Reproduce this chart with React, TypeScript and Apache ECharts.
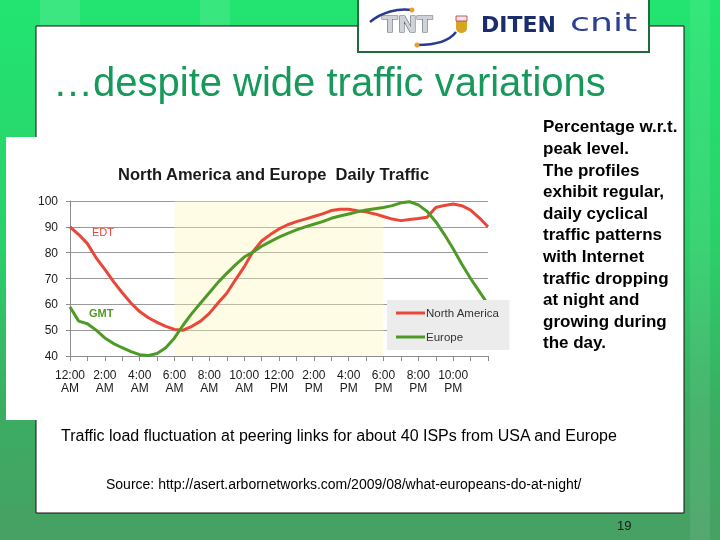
import React, { useEffect, useRef } from "react";
import * as echarts from "echarts";

// Hours of day (x values) at which the curves were read
const hours = [
  0, 0.5, 1, 1.5, 2, 2.5, 3, 3.5, 4, 4.5, 5, 5.5, 6, 6.5, 7, 7.5, 8, 8.5, 9, 9.5,
  10, 10.5, 11, 11.5, 12, 12.5, 13, 13.5, 14, 14.5, 15, 15.5, 16, 16.5, 17, 17.5,
  18, 18.5, 19, 19.5, 20, 20.5, 21, 21.5, 22, 22.5, 23, 23.5, 24,
];

// North America (EDT), % of peak
const northAmerica = [
  90, 87, 83.5, 78, 73.5, 68.8, 64.5, 60.5, 57.2, 54.8, 53, 51.5, 50.3, 50, 51.5, 53.5,
  56.5, 60.5, 64.3, 69.5, 74.5, 80.4, 84.5, 87, 89.2, 90.8, 92, 93, 94, 95, 96.3, 96.8,
  96.8, 96.2, 95.8, 95, 94, 93, 92.4, 92.8, 93.2, 93.7, 97.5, 98.3, 98.8, 98.2, 96.5,
  93.5, 90,
];

// Europe (GMT), % of peak
const europe = [
  59, 53.5, 52.5, 50, 47, 44.8, 43.2, 41.7, 40.5, 40.2, 41, 43.2, 47, 52, 56.5, 60.5,
  64.5, 68.5, 72, 75.3, 78.3, 80.2, 82.5, 84.3, 86, 87.5, 88.8, 90, 91, 92, 93.3, 94.2,
  95, 95.8, 96.5, 97, 97.5, 98.2, 99.3, 99.7, 98.5, 96, 92, 87, 81.5, 75.5, 70, 65, 60,
];

const xTickLabels = [
  "12:00\nAM", "2:00\nAM", "4:00\nAM", "6:00\nAM", "8:00\nAM", "10:00\nAM",
  "12:00\nPM", "2:00\nPM", "4:00\nPM", "6:00\nPM", "8:00\nPM", "10:00\nPM",
];

const daylight = [6, 18];

const sideText = [
  "Percentage w.r.t.",
  "peak level.",
  "The profiles",
  "exhibit regular,",
  "daily cyclical",
  "traffic patterns",
  "with Internet",
  "traffic dropping",
  "at night and",
  "growing during",
  "the day.",
];

const FONT = '"Liberation Sans", Arial, sans-serif';

export default function App() {
  const ref = useRef<HTMLDivElement>(null);

  useEffect(() => {
    if (!ref.current) return;
    const chart = echarts.init(ref.current, null, { renderer: "svg", width: 720, height: 540 });

    const naData = hours.map((h, i) => [h, northAmerica[i]]);
    const euData = hours.map((h, i) => [h, europe[i]]);

    chart.setOption({
      animation: false,
      backgroundColor: "transparent",
      textStyle: { fontFamily: FONT },
      title: {
        text: "North America and Europe  Daily Traffic",
        left: 113,
        top: 160,
        textStyle: { fontSize: 16.5, fontWeight: "bold", color: "#1a1a1a", fontFamily: FONT },
      },
      legend: {
        data: ["North America", "Europe"],
        orient: "vertical",
        left: 387,
        top: 300,
        padding: [7, 10, 7, 9],
        itemGap: 12,
        itemWidth: 29,
        itemHeight: 3,
        icon: "rect",
        backgroundColor: "#ececec",
        textStyle: { fontSize: 11.5, color: "#333", fontFamily: FONT, padding: [0, 0, 0, -4] },
        z: 10,
      },
      grid: { left: 70, right: 232, top: 201, bottom: 184, containLabel: false },
      xAxis: {
        type: "value",
        min: 0,
        max: 24,
        interval: 2,
        axisLine: { show: true, lineStyle: { color: "#8c8c8c", width: 1 } },
        axisTick: { show: true, length: 5, lineStyle: { color: "#8c8c8c" } },
        minorTick: { show: true, splitNumber: 2, length: 5, lineStyle: { color: "#8c8c8c" } },
        splitLine: { show: false },
        axisLabel: {
          margin: 12,
          fontSize: 12,
          lineHeight: 13,
          color: "#1a1a1a",
          fontFamily: FONT,
          formatter: (v: number) => xTickLabels[v / 2] ?? "",
        },
      },
      yAxis: {
        type: "value",
        min: 40,
        max: 100,
        interval: 10,
        axisLine: { show: true, lineStyle: { color: "#8c8c8c" } },
        axisTick: { show: true, length: 4, lineStyle: { color: "#8c8c8c" } },
        splitLine: { show: true, lineStyle: { color: "#9a9a9a", width: 1 } },
        axisLabel: { margin: 12, fontSize: 12, color: "#1a1a1a", fontFamily: FONT },
      },
      series: [
        {
          name: "North America",
          type: "line",
          data: naData,
          symbol: "none",
          lineStyle: { color: "#e8473a", width: 3 },
          itemStyle: { color: "#e8473a" },
          z: 3,
          markArea: {
            silent: true,
            itemStyle: { color: "#fff6b8", opacity: 0.35 },
            data: [[{ xAxis: daylight[0] }, { xAxis: daylight[1] }]],
          },
        },
        {
          name: "Europe",
          type: "line",
          data: euData,
          symbol: "none",
          lineStyle: { color: "#4e9a26", width: 3 },
          itemStyle: { color: "#4e9a26" },
          z: 4,
        },
      ],
      graphic: [
        // slide background
        {
          type: "rect",
          z: -20,
          shape: { x: 0, y: 0, width: 720, height: 540 },
          style: {
            fill: new echarts.graphic.LinearGradient(0, 0, 0, 1, [
              { offset: 0, color: "#22e571" },
              { offset: 0.45, color: "#2bd06a" },
              { offset: 0.75, color: "#3aae62" },
              { offset: 1, color: "#47a064" },
            ]),
          },
        },
        {
          type: "rect",
          z: -19,
          shape: { x: 40, y: 0, width: 40, height: 26 },
          style: { fill: "rgba(255,255,255,0.12)" },
        },
        {
          type: "rect",
          z: -19,
          shape: { x: 200, y: 0, width: 30, height: 26 },
          style: { fill: "rgba(255,255,255,0.1)" },
        },
        {
          type: "rect",
          z: -19,
          shape: { x: 690, y: 0, width: 20, height: 540 },
          style: { fill: "rgba(255,255,255,0.08)" },
        },
        // white slide panel
        {
          type: "rect",
          z: -18,
          shape: { x: 36, y: 26, width: 648, height: 487 },
          style: { fill: "#ffffff", stroke: "#111", lineWidth: 1 },
        },
        // chart image area
        {
          type: "rect",
          z: -17,
          shape: { x: 6, y: 137, width: 522, height: 283 },
          style: { fill: "#ffffff" },
        },
        // logo box
        {
          type: "rect",
          z: -16,
          shape: { x: 358, y: -2, width: 291, height: 54 },
          style: { fill: "#ffffff", stroke: "#1f6b3c", lineWidth: 2 },
        },
        {
          type: "bezierCurve",
          shape: { x1: 370, y1: 22, x2: 412, y2: 10, cpx1: 382, cpy1: 12, cpx2: 398, cpy2: 8 },
          style: { stroke: "#2b3a8f", lineWidth: 2.5, fill: "none" },
        },
        {
          type: "circle",
          shape: { cx: 412, cy: 10, r: 2.5 },
          style: { fill: "#e8a030" },
        },
        {
          type: "bezierCurve",
          shape: { x1: 417, y1: 45, x2: 456, y2: 32, cpx1: 436, cpy1: 45, cpx2: 450, cpy2: 40 },
          style: { stroke: "#2b3a8f", lineWidth: 2.5, fill: "none" },
        },
        {
          type: "circle",
          shape: { cx: 417, cy: 45, r: 2.5 },
          style: { fill: "#e8a030" },
        },
        {
          type: "text",
          x: 382,
          y: 13,
          scaleX: 1.05,
          style: {
            x: 0,
            y: 0,
            text: "TNT",
            font: 'bold 22px "DejaVu Sans"',
            fill: "#cfd3d8",
            stroke: "#555b66",
            lineWidth: 1,
          },
        },
        {
          type: "rect",
          shape: { x: 456, y: 16, width: 11, height: 17, r: [0, 0, 5, 5] },
          style: { fill: "#d9a420" },
        },
        {
          type: "rect",
          shape: { x: 456, y: 16, width: 11, height: 5 },
          style: { fill: "#e8e8f0", stroke: "#c03030", lineWidth: 0.8 },
        },
        {
          type: "text",
          x: 481,
          y: 13,
          style: {
            x: 0,
            y: 0,
            text: "DITEN",
            font: 'bold 22px "DejaVu Sans"',
            fill: "#1b2d6b",
          },
        },
        {
          type: "text",
          x: 570,
          y: 10,
          scaleX: 1.45,
          style: {
            x: 0,
            y: 0,
            text: "cnit",
            font: '25px "DejaVu Sans"',
            fill: "#2d3f94",
          },
        },
        // slide title
        {
          type: "text",
          style: {
            x: 53,
            y: 62,
            text: "\u2026despite wide traffic variations",
            font: `40px ${FONT}`,
            fill: "#16995a",
          },
        },
        // EDT / GMT annotations
        {
          type: "text",
          style: { x: 92, y: 226, text: "EDT", font: `11px ${FONT}`, fill: "#e0483a" },
        },
        {
          type: "text",
          style: { x: 89, y: 307, text: "GMT", font: `bold 11px ${FONT}`, fill: "#4e9a26" },
        },
        // side text
        {
          type: "text",
          style: {
            x: 543,
            y: 116,
            text: sideText.join("\n"),
            font: `bold 17px ${FONT}`,
            lineHeight: 21.6,
            fill: "#000",
          },
        },
        // caption
        {
          type: "text",
          style: {
            x: 61,
            y: 427,
            text: "Traffic load fluctuation at peering links for about 40 ISPs from USA and Europe",
            font: `16px ${FONT}`,
            fill: "#000",
          },
        },
        {
          type: "text",
          style: {
            x: 106,
            y: 477,
            text: "Source: http://asert.arbornetworks.com/2009/08/what-europeans-do-at-night/",
            font: `14px ${FONT}`,
            fill: "#000",
          },
        },
        {
          type: "text",
          style: { x: 617, y: 519, text: "19", font: `13px ${FONT}`, fill: "#1a1a1a" },
        },
      ],
    });

    return () => chart.dispose();
  }, []);

  return (
    <div
      ref={ref}
      style={{ position: "fixed", left: 0, top: 0, width: 720, height: 540 }}
    />
  );
}
